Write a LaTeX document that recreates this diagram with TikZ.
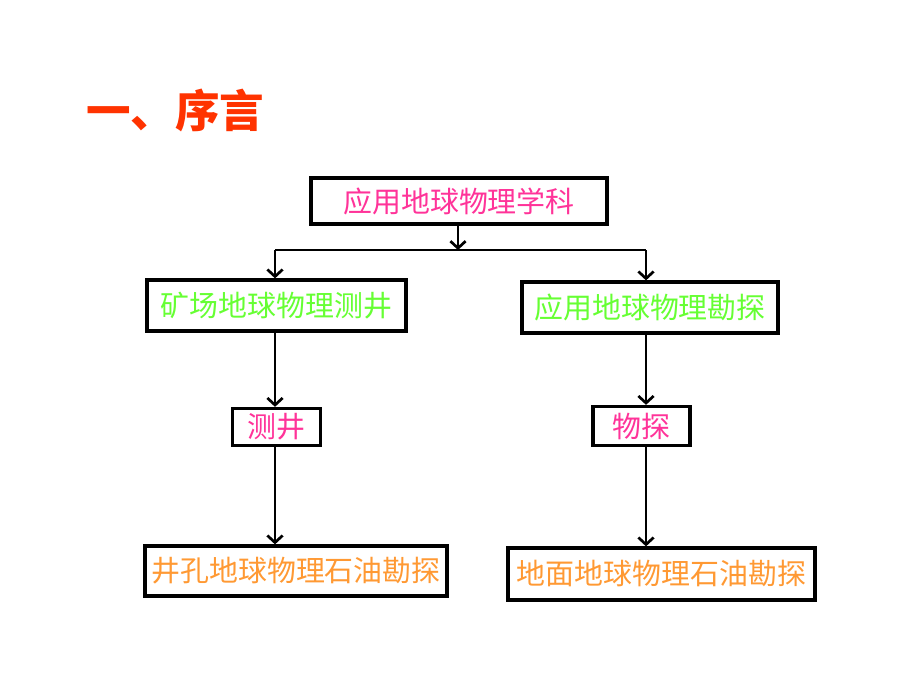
\documentclass[tikz,border=0pt]{standalone}
\usepackage{fontspec}
\newfontfamily\cjk{Noto Sans CJK SC}
\usetikzlibrary{arrows.meta}

\definecolor{titlered}{RGB}{255,51,0}
\definecolor{rosepink}{RGB}{255,51,153}
\definecolor{limegreen}{RGB}{102,255,51}
\definecolor{lightorange}{RGB}{255,153,51}

\tikzset{
	box/.style={draw=black, line width=2.8pt, fill=white, inner sep=0pt,
		font=\cjk\fontsize{24.7}{30}\selectfont},
	arr/.style={line width=2.3pt, -{Straight Barb[length=6pt,width=13pt,line width=2.3pt]}},
	link/.style={line width=2.3pt}
}

\begin{document}
\begin{tikzpicture}[x=0.03cm,y=-0.03cm]
		
		% THE PAGE
		\useasboundingbox[fill=white] (0,0) rectangle (920,690);
		%
		% THE TITLE
		\node[anchor=west, inner sep=0pt, text=titlered,
		font=\cjk\bfseries\fontsize{38}{40}\selectfont] (title) at (86,110) {一、序言};
		%
		% THE BOXES
		% TOP
		\node[box, text=rosepink, minimum width=8.88cm, minimum height=1.38cm] (top) at (459,201) {应用地球物理学科};
		% SECOND ROW
		\node[box, text=limegreen, minimum width=7.77cm, minimum height=1.53cm] (mine) at (276.5,305.5) {矿场地球物理测井};
		\node[box, text=limegreen, minimum width=7.68cm, minimum height=1.53cm] (appl) at (650,307.5) {应用地球物理勘探};
		% THIRD ROW
		\node[box, text=rosepink, minimum width=2.64cm, minimum height=1.11cm] (logg) at (276.5,427) {测井};
		\node[box, text=rosepink, minimum width=2.91cm, minimum height=1.17cm] (expl) at (641.5,426) {物探};
		% BOTTOM ROW
		\node[box, text=lightorange, minimum width=9.06cm, minimum height=1.5cm] (well) at (296,571) {井孔地球物理石油勘探};
		\node[box, text=lightorange, minimum width=9.21cm, minimum height=1.56cm] (surf) at (661.5,574) {地面地球物理石油勘探};
		%
		% THE CONNECTORS
		\coordinate (mid) at (458,250);
		\coordinate (lcol) at (275,250);
		\coordinate (rcol) at (646,250);
		% SPLIT
		\draw[arr] (top.south -| mid) -- (mid);
		\draw[link] (lcol) -- (rcol);
		\draw[arr] (lcol) -- (mine.north -| lcol);
		\draw[arr] (rcol) -- (appl.north -| rcol);
		% LEFT COLUMN
		\draw[arr] (mine.south -| lcol) -- (logg.north -| lcol);
		\draw[arr] (logg.south -| lcol) -- (well.north -| lcol);
		% RIGHT COLUMN
		\draw[arr] (appl.south -| rcol) -- (expl.north -| rcol);
		\draw[arr] (expl.south -| rcol) -- (surf.north -| rcol);
	\end{tikzpicture}
\end{document}
